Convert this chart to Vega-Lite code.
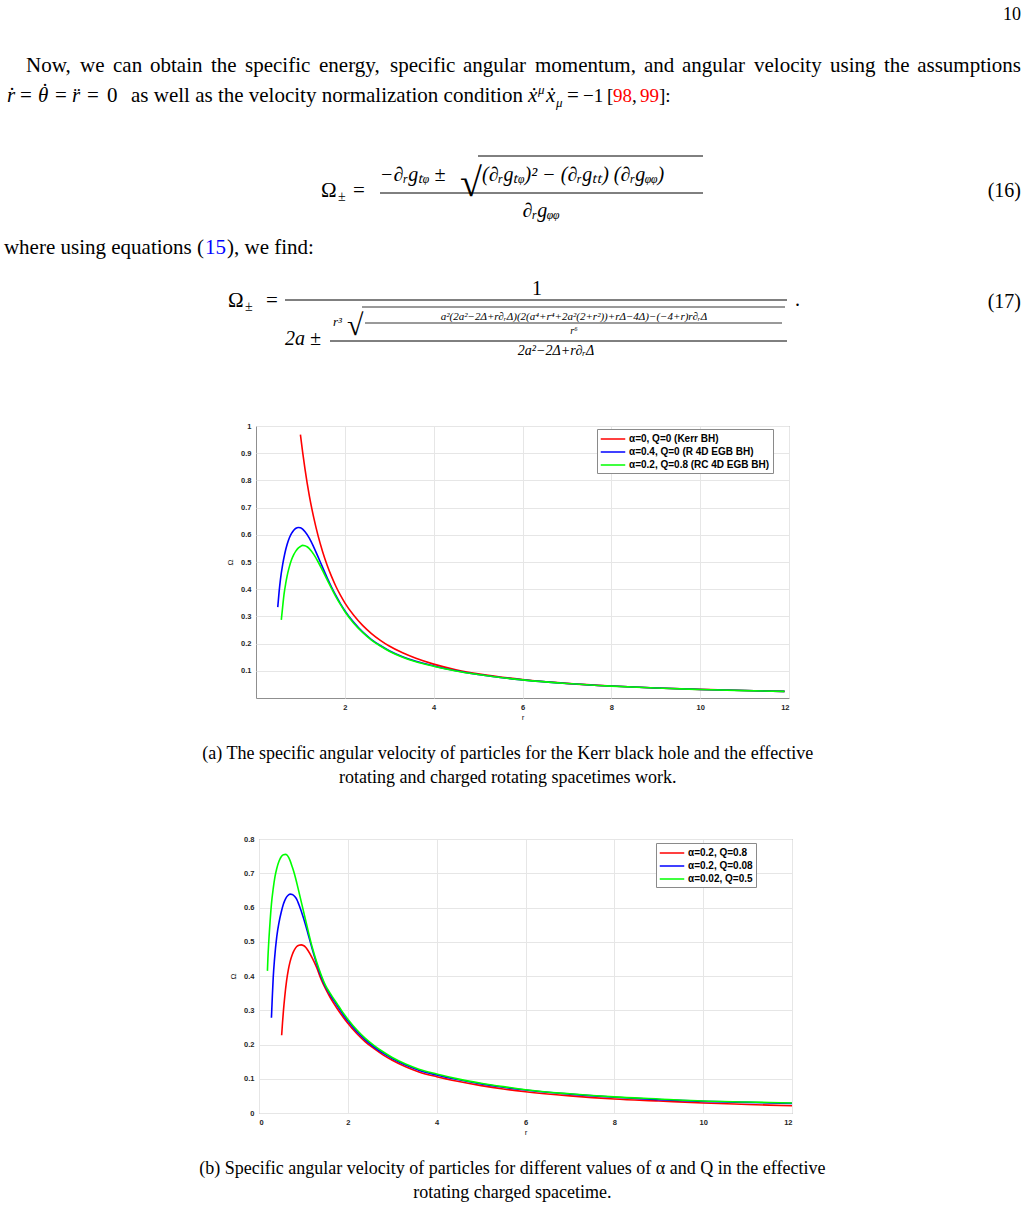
{
  "$schema": "https://vega.github.io/schema/vega-lite/v6.json",
  "padding": 0,
  "background": "white",
  "spacing": 47,
  "center": false,
  "align": "none",
  "bounds": "full",
  "resolve": {"scale": {"color": "independent"}, "legend": {"color": "independent"}},
  "config": {
    "view": {"stroke": "#8f8f8f", "strokeWidth": 1},
    "concat": {"spacing": 0},
    "axis": {
      "labelFont": "Liberation Sans", "labelFontWeight": "bold", "labelFontSize": 7.5, "labelColor": "#262626",
      "titleFont": "Liberation Sans", "titleFontSize": 8, "titleFontWeight": "normal", "titleColor": "#262626",
      "domain": false, "ticks": false, "labelPadding": 5, "gridColor": "#e6e6e6", "gridWidth": 1
    },
    "legend": {
      "symbolType": "M-2,0L2,0", "symbolStrokeWidth": 1.5, "symbolSize": 150, "symbolOffset": 6,
      "labelFont": "Liberation Sans", "labelFontWeight": "bold", "labelFontSize": 10, "labelColor": "#000000",
      "strokeColor": "#8a8a8a", "fillColor": "white", "padding": 3, "rowPadding": 1, "labelOffset": 9, "labelLimit": 400
    },
    "title": {
      "font": "Liberation Serif", "fontSize": 18, "fontWeight": "normal", "color": "#000000",
      "lineHeight": 24, "orient": "bottom", "anchor": "middle", "frame": "bounds", "offset": 23
    },
    "text": {"font": "Liberation Serif", "fontSize": 21, "align": "left", "baseline": "alphabetic", "color": "#000000"}
  },
  "vconcat": [
    {
      "width": 1021,
      "height": 374,
      "view": {"stroke": null},
      "data": {"values": [{}]},
      "layer": [
        {"mark": {"type": "text", "text": "10", "align": "right", "fontSize": 18}, "encoding": {"x": {"value": 1021}, "y": {"value": 20}}},
        {"mark": {"type": "text", "text": "Now,"}, "encoding": {"x": {"value": 26}, "y": {"value": 72}}},
        {"mark": {"type": "text", "text": "we"}, "encoding": {"x": {"value": 80}, "y": {"value": 72}}},
        {"mark": {"type": "text", "text": "can"}, "encoding": {"x": {"value": 113}, "y": {"value": 72}}},
        {"mark": {"type": "text", "text": "obtain"}, "encoding": {"x": {"value": 150}, "y": {"value": 72}}},
        {"mark": {"type": "text", "text": "the"}, "encoding": {"x": {"value": 211}, "y": {"value": 72}}},
        {"mark": {"type": "text", "text": "specific"}, "encoding": {"x": {"value": 245}, "y": {"value": 72}}},
        {"mark": {"type": "text", "text": "energy,"}, "encoding": {"x": {"value": 319}, "y": {"value": 72}}},
        {"mark": {"type": "text", "text": "specific"}, "encoding": {"x": {"value": 390}, "y": {"value": 72}}},
        {"mark": {"type": "text", "text": "angular"}, "encoding": {"x": {"value": 463}, "y": {"value": 72}}},
        {"mark": {"type": "text", "text": "momentum,"}, "encoding": {"x": {"value": 535}, "y": {"value": 72}}},
        {"mark": {"type": "text", "text": "and"}, "encoding": {"x": {"value": 644}, "y": {"value": 72}}},
        {"mark": {"type": "text", "text": "angular"}, "encoding": {"x": {"value": 682}, "y": {"value": 72}}},
        {"mark": {"type": "text", "text": "velocity"}, "encoding": {"x": {"value": 754}, "y": {"value": 72}}},
        {"mark": {"type": "text", "text": "using"}, "encoding": {"x": {"value": 830}, "y": {"value": 72}}},
        {"mark": {"type": "text", "text": "the"}, "encoding": {"x": {"value": 884}, "y": {"value": 72}}},
        {"mark": {"type": "text", "text": "assumptions", "align": "right"}, "encoding": {"x": {"value": 1021}, "y": {"value": 72}}},

        {"mark": {"type": "text", "text": "r", "fontStyle": "italic"}, "encoding": {"x": {"value": 7}, "y": {"value": 102}}},
        {"mark": {"type": "text", "text": "˙", "align": "center"}, "encoding": {"x": {"value": 12}, "y": {"value": 102}}},
        {"mark": {"type": "text", "text": "="}, "encoding": {"x": {"value": 20}, "y": {"value": 102}}},
        {"mark": {"type": "text", "text": "θ", "fontStyle": "italic"}, "encoding": {"x": {"value": 38}, "y": {"value": 102}}},
        {"mark": {"type": "text", "text": "˙", "align": "center"}, "encoding": {"x": {"value": 45}, "y": {"value": 98}}},
        {"mark": {"type": "text", "text": "="}, "encoding": {"x": {"value": 55}, "y": {"value": 102}}},
        {"mark": {"type": "text", "text": "r", "fontStyle": "italic"}, "encoding": {"x": {"value": 72}, "y": {"value": 102}}},
        {"mark": {"type": "text", "text": "¨", "align": "center"}, "encoding": {"x": {"value": 77}, "y": {"value": 102}}},
        {"mark": {"type": "text", "text": "="}, "encoding": {"x": {"value": 87}, "y": {"value": 102}}},
        {"mark": {"type": "text", "text": "0"}, "encoding": {"x": {"value": 107}, "y": {"value": 102}}},
        {"mark": {"type": "text", "text": "as well as the velocity normalization condition"}, "encoding": {"x": {"value": 131}, "y": {"value": 102}}},
        {"mark": {"type": "text", "text": "ẋ", "fontStyle": "italic"}, "encoding": {"x": {"value": 528}, "y": {"value": 102}}},
        {"mark": {"type": "text", "text": "μ", "fontSize": 13, "fontStyle": "italic"}, "encoding": {"x": {"value": 538}, "y": {"value": 94}}},
        {"mark": {"type": "text", "text": "ẋ", "fontStyle": "italic"}, "encoding": {"x": {"value": 546}, "y": {"value": 102}}},
        {"mark": {"type": "text", "text": "μ", "fontSize": 13, "fontStyle": "italic"}, "encoding": {"x": {"value": 556}, "y": {"value": 107}}},
        {"mark": {"type": "text", "text": "="}, "encoding": {"x": {"value": 567}, "y": {"value": 102}}},
        {"mark": {"type": "text", "text": "−1", "fontSize": 19}, "encoding": {"x": {"value": 583}, "y": {"value": 102}}},
        {"mark": {"type": "text", "text": "[", "fontSize": 19}, "encoding": {"x": {"value": 607}, "y": {"value": 102}}},
        {"mark": {"type": "text", "text": "98", "fontSize": 19, "color": "#ff0000"}, "encoding": {"x": {"value": 613}, "y": {"value": 102}}},
        {"mark": {"type": "text", "text": ",", "fontSize": 19}, "encoding": {"x": {"value": 632}, "y": {"value": 102}}},
        {"mark": {"type": "text", "text": "99", "fontSize": 19, "color": "#ff0000"}, "encoding": {"x": {"value": 640}, "y": {"value": 102}}},
        {"mark": {"type": "text", "text": "]:", "fontSize": 19}, "encoding": {"x": {"value": 659}, "y": {"value": 102}}},

        {"mark": {"type": "text", "text": "Ω"}, "encoding": {"x": {"value": 321}, "y": {"value": 197}}},
        {"mark": {"type": "text", "text": "±", "fontSize": 14}, "encoding": {"x": {"value": 338}, "y": {"value": 201}}},
        {"mark": {"type": "text", "text": "="}, "encoding": {"x": {"value": 353}, "y": {"value": 197}}},
        {"mark": {"type": "text", "text": "−∂ᵣgₜᵩ ±", "fontSize": 20, "fontStyle": "italic"}, "encoding": {"x": {"value": 380}, "y": {"value": 181}}},
        {"mark": {"type": "text", "text": "√", "fontSize": 40}, "encoding": {"x": {"value": 460}, "y": {"value": 196}}},
        {"mark": {"type": "rule", "color": "#000000", "strokeWidth": 1}, "encoding": {"x": {"value": 478}, "x2": {"value": 703}, "y": {"value": 156}}},
        {"mark": {"type": "text", "text": "(∂ᵣgₜᵩ)² − (∂ᵣgₜₜ) (∂ᵣgᵩᵩ)", "fontSize": 20, "fontStyle": "italic"}, "encoding": {"x": {"value": 482}, "y": {"value": 181}}},
        {"mark": {"type": "rule", "color": "#000000", "strokeWidth": 1}, "encoding": {"x": {"value": 380}, "x2": {"value": 703}, "y": {"value": 193}}},
        {"mark": {"type": "text", "text": "∂ᵣgᵩᵩ", "align": "center", "fontSize": 20, "fontStyle": "italic"}, "encoding": {"x": {"value": 541}, "y": {"value": 217}}},
        {"mark": {"type": "text", "text": "(16)", "align": "right", "fontSize": 20}, "encoding": {"x": {"value": 1021}, "y": {"value": 197}}},

        {"mark": {"type": "text", "text": "where using equations (", "align": "right"}, "encoding": {"x": {"value": 204}, "y": {"value": 254}}},
        {"mark": {"type": "text", "text": "15", "color": "#0000ff"}, "encoding": {"x": {"value": 205}, "y": {"value": 254}}},
        {"mark": {"type": "text", "text": "), we find:"}, "encoding": {"x": {"value": 227}, "y": {"value": 254}}},

        {"mark": {"type": "text", "text": "Ω"}, "encoding": {"x": {"value": 228}, "y": {"value": 307}}},
        {"mark": {"type": "text", "text": "±", "fontSize": 14}, "encoding": {"x": {"value": 245}, "y": {"value": 311}}},
        {"mark": {"type": "text", "text": "="}, "encoding": {"x": {"value": 266}, "y": {"value": 307}}},
        {"mark": {"type": "text", "text": "1", "align": "center", "fontSize": 20}, "encoding": {"x": {"value": 537}, "y": {"value": 295}}},
        {"mark": {"type": "rule", "color": "#000000", "strokeWidth": 1}, "encoding": {"x": {"value": 285}, "x2": {"value": 787}, "y": {"value": 300}}},
        {"mark": {"type": "text", "text": "2a ±", "fontSize": 20, "fontStyle": "italic"}, "encoding": {"x": {"value": 285}, "y": {"value": 345}}},
        {"mark": {"type": "text", "text": "r³", "fontSize": 13, "fontStyle": "italic"}, "encoding": {"x": {"value": 333}, "y": {"value": 326}}},
        {"mark": {"type": "text", "text": "√", "fontSize": 30}, "encoding": {"x": {"value": 347}, "y": {"value": 335}}},
        {"mark": {"type": "rule", "color": "#000000", "strokeWidth": 0.8}, "encoding": {"x": {"value": 362}, "x2": {"value": 785}, "y": {"value": 307}}},
        {"mark": {"type": "text", "text": "a²(2a²−2Δ+r∂ᵣΔ)(2(a⁴+r⁴+2a²(2+r²))+rΔ−4Δ)−(−4+r)r∂ᵣΔ", "align": "center", "fontSize": 11, "fontStyle": "italic"}, "encoding": {"x": {"value": 574}, "y": {"value": 320}}},
        {"mark": {"type": "rule", "color": "#000000", "strokeWidth": 0.8}, "encoding": {"x": {"value": 365}, "x2": {"value": 782}, "y": {"value": 323}}},
        {"mark": {"type": "text", "text": "r⁶", "align": "center", "fontSize": 10, "fontStyle": "italic"}, "encoding": {"x": {"value": 574}, "y": {"value": 334}}},
        {"mark": {"type": "rule", "color": "#000000", "strokeWidth": 1}, "encoding": {"x": {"value": 330}, "x2": {"value": 787}, "y": {"value": 341}}},
        {"mark": {"type": "text", "text": "2a²−2Δ+r∂ᵣΔ", "align": "center", "fontSize": 14, "fontStyle": "italic"}, "encoding": {"x": {"value": 556}, "y": {"value": 355}}},
        {"mark": {"type": "text", "text": ".", "fontSize": 20}, "encoding": {"x": {"value": 795}, "y": {"value": 306}}},
        {"mark": {"type": "text", "text": "(17)", "align": "right", "fontSize": 20}, "encoding": {"x": {"value": 1021}, "y": {"value": 308}}}
      ]
    },
    {
      "align": "none",
      "bounds": "full",
      "spacing": 0,
      "hconcat": [
        {"width": 199, "height": 10, "view": {"stroke": null}, "data": {"values": []}, "mark": "point"},
        {
          "width": 533,
          "height": 272,
          "title": {"text": ["(a)  The specific angular velocity of particles for the Kerr black hole and the effective", "rotating and charged rotating spacetimes work."]},
          "data": {"values": [
            {"series": "α=0, Q=0 (Kerr BH)", "r": 1.0, "omega": 0.968},
            {"series": "α=0, Q=0 (Kerr BH)", "r": 1.05, "omega": 0.904},
            {"series": "α=0, Q=0 (Kerr BH)", "r": 1.1, "omega": 0.845},
            {"series": "α=0, Q=0 (Kerr BH)", "r": 1.15, "omega": 0.792},
            {"series": "α=0, Q=0 (Kerr BH)", "r": 1.2, "omega": 0.744},
            {"series": "α=0, Q=0 (Kerr BH)", "r": 1.3, "omega": 0.663},
            {"series": "α=0, Q=0 (Kerr BH)", "r": 1.4, "omega": 0.595},
            {"series": "α=0, Q=0 (Kerr BH)", "r": 1.5, "omega": 0.538},
            {"series": "α=0, Q=0 (Kerr BH)", "r": 1.6, "omega": 0.489},
            {"series": "α=0, Q=0 (Kerr BH)", "r": 1.7, "omega": 0.447},
            {"series": "α=0, Q=0 (Kerr BH)", "r": 1.8, "omega": 0.41},
            {"series": "α=0, Q=0 (Kerr BH)", "r": 1.9, "omega": 0.378},
            {"series": "α=0, Q=0 (Kerr BH)", "r": 2.0, "omega": 0.35},
            {"series": "α=0, Q=0 (Kerr BH)", "r": 2.2, "omega": 0.304},
            {"series": "α=0, Q=0 (Kerr BH)", "r": 2.4, "omega": 0.267},
            {"series": "α=0, Q=0 (Kerr BH)", "r": 2.6, "omega": 0.237},
            {"series": "α=0, Q=0 (Kerr BH)", "r": 2.8, "omega": 0.212},
            {"series": "α=0, Q=0 (Kerr BH)", "r": 3.0, "omega": 0.191},
            {"series": "α=0, Q=0 (Kerr BH)", "r": 3.3, "omega": 0.166},
            {"series": "α=0, Q=0 (Kerr BH)", "r": 3.6, "omega": 0.146},
            {"series": "α=0, Q=0 (Kerr BH)", "r": 4.0, "omega": 0.1245},
            {"series": "α=0, Q=0 (Kerr BH)", "r": 4.5, "omega": 0.104},
            {"series": "α=0, Q=0 (Kerr BH)", "r": 5.0, "omega": 0.089},
            {"series": "α=0, Q=0 (Kerr BH)", "r": 5.5, "omega": 0.0773},
            {"series": "α=0, Q=0 (Kerr BH)", "r": 6.0, "omega": 0.0679},
            {"series": "α=0, Q=0 (Kerr BH)", "r": 7.0, "omega": 0.0539},
            {"series": "α=0, Q=0 (Kerr BH)", "r": 8.0, "omega": 0.0441},
            {"series": "α=0, Q=0 (Kerr BH)", "r": 9.0, "omega": 0.037},
            {"series": "α=0, Q=0 (Kerr BH)", "r": 10.0, "omega": 0.0316},
            {"series": "α=0, Q=0 (Kerr BH)", "r": 11.0, "omega": 0.0274},
            {"series": "α=0, Q=0 (Kerr BH)", "r": 11.9, "omega": 0.0243},

            {"series": "α=0.4, Q=0 (R 4D EGB BH)", "r": 0.49, "omega": 0.334},
            {"series": "α=0.4, Q=0 (R 4D EGB BH)", "r": 0.52, "omega": 0.39},
            {"series": "α=0.4, Q=0 (R 4D EGB BH)", "r": 0.55, "omega": 0.435},
            {"series": "α=0.4, Q=0 (R 4D EGB BH)", "r": 0.6, "omega": 0.49},
            {"series": "α=0.4, Q=0 (R 4D EGB BH)", "r": 0.65, "omega": 0.532},
            {"series": "α=0.4, Q=0 (R 4D EGB BH)", "r": 0.7, "omega": 0.564},
            {"series": "α=0.4, Q=0 (R 4D EGB BH)", "r": 0.75, "omega": 0.588},
            {"series": "α=0.4, Q=0 (R 4D EGB BH)", "r": 0.8, "omega": 0.605},
            {"series": "α=0.4, Q=0 (R 4D EGB BH)", "r": 0.85, "omega": 0.617},
            {"series": "α=0.4, Q=0 (R 4D EGB BH)", "r": 0.9, "omega": 0.624},
            {"series": "α=0.4, Q=0 (R 4D EGB BH)", "r": 0.95, "omega": 0.627},
            {"series": "α=0.4, Q=0 (R 4D EGB BH)", "r": 1.0, "omega": 0.626},
            {"series": "α=0.4, Q=0 (R 4D EGB BH)", "r": 1.05, "omega": 0.621},
            {"series": "α=0.4, Q=0 (R 4D EGB BH)", "r": 1.1, "omega": 0.612},
            {"series": "α=0.4, Q=0 (R 4D EGB BH)", "r": 1.2, "omega": 0.588},
            {"series": "α=0.4, Q=0 (R 4D EGB BH)", "r": 1.3, "omega": 0.555},
            {"series": "α=0.4, Q=0 (R 4D EGB BH)", "r": 1.4, "omega": 0.518},
            {"series": "α=0.4, Q=0 (R 4D EGB BH)", "r": 1.5, "omega": 0.48},
            {"series": "α=0.4, Q=0 (R 4D EGB BH)", "r": 1.6, "omega": 0.443},
            {"series": "α=0.4, Q=0 (R 4D EGB BH)", "r": 1.7, "omega": 0.408},
            {"series": "α=0.4, Q=0 (R 4D EGB BH)", "r": 1.8, "omega": 0.376},
            {"series": "α=0.4, Q=0 (R 4D EGB BH)", "r": 1.9, "omega": 0.347},
            {"series": "α=0.4, Q=0 (R 4D EGB BH)", "r": 2.0, "omega": 0.321},
            {"series": "α=0.4, Q=0 (R 4D EGB BH)", "r": 2.2, "omega": 0.278},
            {"series": "α=0.4, Q=0 (R 4D EGB BH)", "r": 2.4, "omega": 0.243},
            {"series": "α=0.4, Q=0 (R 4D EGB BH)", "r": 2.6, "omega": 0.215},
            {"series": "α=0.4, Q=0 (R 4D EGB BH)", "r": 2.8, "omega": 0.193},
            {"series": "α=0.4, Q=0 (R 4D EGB BH)", "r": 3.0, "omega": 0.174},
            {"series": "α=0.4, Q=0 (R 4D EGB BH)", "r": 3.3, "omega": 0.152},
            {"series": "α=0.4, Q=0 (R 4D EGB BH)", "r": 3.6, "omega": 0.135},
            {"series": "α=0.4, Q=0 (R 4D EGB BH)", "r": 4.0, "omega": 0.118},
            {"series": "α=0.4, Q=0 (R 4D EGB BH)", "r": 4.5, "omega": 0.1},
            {"series": "α=0.4, Q=0 (R 4D EGB BH)", "r": 5.0, "omega": 0.0865},
            {"series": "α=0.4, Q=0 (R 4D EGB BH)", "r": 5.5, "omega": 0.0755},
            {"series": "α=0.4, Q=0 (R 4D EGB BH)", "r": 6.0, "omega": 0.0668},
            {"series": "α=0.4, Q=0 (R 4D EGB BH)", "r": 7.0, "omega": 0.0534},
            {"series": "α=0.4, Q=0 (R 4D EGB BH)", "r": 8.0, "omega": 0.0439},
            {"series": "α=0.4, Q=0 (R 4D EGB BH)", "r": 9.0, "omega": 0.0368},
            {"series": "α=0.4, Q=0 (R 4D EGB BH)", "r": 10.0, "omega": 0.0315},
            {"series": "α=0.4, Q=0 (R 4D EGB BH)", "r": 11.0, "omega": 0.0273},
            {"series": "α=0.4, Q=0 (R 4D EGB BH)", "r": 11.9, "omega": 0.0243},

            {"series": "α=0.2, Q=0.8 (RC 4D EGB BH)", "r": 0.57, "omega": 0.287},
            {"series": "α=0.2, Q=0.8 (RC 4D EGB BH)", "r": 0.6, "omega": 0.335},
            {"series": "α=0.2, Q=0.8 (RC 4D EGB BH)", "r": 0.63, "omega": 0.38},
            {"series": "α=0.2, Q=0.8 (RC 4D EGB BH)", "r": 0.67, "omega": 0.422},
            {"series": "α=0.2, Q=0.8 (RC 4D EGB BH)", "r": 0.7, "omega": 0.448},
            {"series": "α=0.2, Q=0.8 (RC 4D EGB BH)", "r": 0.75, "omega": 0.482},
            {"series": "α=0.2, Q=0.8 (RC 4D EGB BH)", "r": 0.8, "omega": 0.508},
            {"series": "α=0.2, Q=0.8 (RC 4D EGB BH)", "r": 0.85, "omega": 0.527},
            {"series": "α=0.2, Q=0.8 (RC 4D EGB BH)", "r": 0.9, "omega": 0.541},
            {"series": "α=0.2, Q=0.8 (RC 4D EGB BH)", "r": 0.95, "omega": 0.551},
            {"series": "α=0.2, Q=0.8 (RC 4D EGB BH)", "r": 1.0, "omega": 0.557},
            {"series": "α=0.2, Q=0.8 (RC 4D EGB BH)", "r": 1.05, "omega": 0.561},
            {"series": "α=0.2, Q=0.8 (RC 4D EGB BH)", "r": 1.1, "omega": 0.56},
            {"series": "α=0.2, Q=0.8 (RC 4D EGB BH)", "r": 1.15, "omega": 0.556},
            {"series": "α=0.2, Q=0.8 (RC 4D EGB BH)", "r": 1.2, "omega": 0.549},
            {"series": "α=0.2, Q=0.8 (RC 4D EGB BH)", "r": 1.3, "omega": 0.528},
            {"series": "α=0.2, Q=0.8 (RC 4D EGB BH)", "r": 1.4, "omega": 0.5},
            {"series": "α=0.2, Q=0.8 (RC 4D EGB BH)", "r": 1.5, "omega": 0.468},
            {"series": "α=0.2, Q=0.8 (RC 4D EGB BH)", "r": 1.6, "omega": 0.435},
            {"series": "α=0.2, Q=0.8 (RC 4D EGB BH)", "r": 1.7, "omega": 0.403},
            {"series": "α=0.2, Q=0.8 (RC 4D EGB BH)", "r": 1.8, "omega": 0.372},
            {"series": "α=0.2, Q=0.8 (RC 4D EGB BH)", "r": 1.9, "omega": 0.344},
            {"series": "α=0.2, Q=0.8 (RC 4D EGB BH)", "r": 2.0, "omega": 0.318},
            {"series": "α=0.2, Q=0.8 (RC 4D EGB BH)", "r": 2.2, "omega": 0.275},
            {"series": "α=0.2, Q=0.8 (RC 4D EGB BH)", "r": 2.4, "omega": 0.241},
            {"series": "α=0.2, Q=0.8 (RC 4D EGB BH)", "r": 2.6, "omega": 0.213},
            {"series": "α=0.2, Q=0.8 (RC 4D EGB BH)", "r": 2.8, "omega": 0.191},
            {"series": "α=0.2, Q=0.8 (RC 4D EGB BH)", "r": 3.0, "omega": 0.172},
            {"series": "α=0.2, Q=0.8 (RC 4D EGB BH)", "r": 3.3, "omega": 0.15},
            {"series": "α=0.2, Q=0.8 (RC 4D EGB BH)", "r": 3.6, "omega": 0.133},
            {"series": "α=0.2, Q=0.8 (RC 4D EGB BH)", "r": 4.0, "omega": 0.117},
            {"series": "α=0.2, Q=0.8 (RC 4D EGB BH)", "r": 4.5, "omega": 0.0995},
            {"series": "α=0.2, Q=0.8 (RC 4D EGB BH)", "r": 5.0, "omega": 0.0862},
            {"series": "α=0.2, Q=0.8 (RC 4D EGB BH)", "r": 5.5, "omega": 0.0753},
            {"series": "α=0.2, Q=0.8 (RC 4D EGB BH)", "r": 6.0, "omega": 0.0666},
            {"series": "α=0.2, Q=0.8 (RC 4D EGB BH)", "r": 7.0, "omega": 0.0533},
            {"series": "α=0.2, Q=0.8 (RC 4D EGB BH)", "r": 8.0, "omega": 0.0438},
            {"series": "α=0.2, Q=0.8 (RC 4D EGB BH)", "r": 9.0, "omega": 0.0367},
            {"series": "α=0.2, Q=0.8 (RC 4D EGB BH)", "r": 10.0, "omega": 0.0314},
            {"series": "α=0.2, Q=0.8 (RC 4D EGB BH)", "r": 11.0, "omega": 0.0272},
            {"series": "α=0.2, Q=0.8 (RC 4D EGB BH)", "r": 11.9, "omega": 0.0242}
          ]},
          "mark": {"type": "line", "strokeWidth": 1.6, "interpolate": "monotone"},
          "encoding": {
            "x": {"field": "r", "type": "quantitative", "scale": {"domain": [0, 12], "nice": false, "zero": false},
                  "axis": {"values": [2, 4, 6, 8, 10, 12], "format": "~g", "title": "r", "titlePadding": 3}},
            "y": {"field": "omega", "type": "quantitative", "scale": {"domain": [0, 1], "nice": false},
                  "axis": {"values": [0.1, 0.2, 0.3, 0.4, 0.5, 0.6, 0.7, 0.8, 0.9, 1], "format": "~g", "title": "Ω", "titlePadding": 6}},
            "color": {"field": "series", "type": "nominal",
                      "scale": {"domain": ["α=0, Q=0 (Kerr BH)", "α=0.4, Q=0 (R 4D EGB BH)", "α=0.2, Q=0.8 (RC 4D EGB BH)"], "range": ["#ff0000", "#0000ff", "#00ff00"]},
                      "legend": {"title": null, "orient": "none", "legendX": 597, "legendY": 3}}
          }
        }
      ]
    },
    {
      "align": "none",
      "bounds": "full",
      "spacing": 0,
      "hconcat": [
        {"width": 196, "height": 10, "view": {"stroke": null}, "data": {"values": []}, "mark": "point"},
        {
          "width": 533,
          "height": 274,
          "title": {"text": ["(b)  Specific angular velocity of particles for different values of α and Q in the effective", "rotating charged spacetime."]},
          "data": {"values": [
            {"series": "α=0.2, Q=0.8", "r": 0.51, "omega": 0.227},
            {"series": "α=0.2, Q=0.8", "r": 0.53, "omega": 0.265},
            {"series": "α=0.2, Q=0.8", "r": 0.55, "omega": 0.298},
            {"series": "α=0.2, Q=0.8", "r": 0.58, "omega": 0.34},
            {"series": "α=0.2, Q=0.8", "r": 0.62, "omega": 0.385},
            {"series": "α=0.2, Q=0.8", "r": 0.66, "omega": 0.418},
            {"series": "α=0.2, Q=0.8", "r": 0.7, "omega": 0.442},
            {"series": "α=0.2, Q=0.8", "r": 0.75, "omega": 0.463},
            {"series": "α=0.2, Q=0.8", "r": 0.8, "omega": 0.477},
            {"series": "α=0.2, Q=0.8", "r": 0.85, "omega": 0.486},
            {"series": "α=0.2, Q=0.8", "r": 0.9, "omega": 0.49},
            {"series": "α=0.2, Q=0.8", "r": 0.95, "omega": 0.491},
            {"series": "α=0.2, Q=0.8", "r": 1.0, "omega": 0.489},
            {"series": "α=0.2, Q=0.8", "r": 1.05, "omega": 0.484},
            {"series": "α=0.2, Q=0.8", "r": 1.1, "omega": 0.475},
            {"series": "α=0.2, Q=0.8", "r": 1.2, "omega": 0.452},
            {"series": "α=0.2, Q=0.8", "r": 1.3, "omega": 0.424},
            {"series": "α=0.2, Q=0.8", "r": 1.4, "omega": 0.39},
            {"series": "α=0.2, Q=0.8", "r": 1.5, "omega": 0.362},
            {"series": "α=0.2, Q=0.8", "r": 1.6, "omega": 0.338},
            {"series": "α=0.2, Q=0.8", "r": 1.7, "omega": 0.317},
            {"series": "α=0.2, Q=0.8", "r": 1.8, "omega": 0.297},
            {"series": "α=0.2, Q=0.8", "r": 1.9, "omega": 0.279},
            {"series": "α=0.2, Q=0.8", "r": 2.0, "omega": 0.262},
            {"series": "α=0.2, Q=0.8", "r": 2.2, "omega": 0.232},
            {"series": "α=0.2, Q=0.8", "r": 2.4, "omega": 0.207},
            {"series": "α=0.2, Q=0.8", "r": 2.6, "omega": 0.187},
            {"series": "α=0.2, Q=0.8", "r": 2.8, "omega": 0.169},
            {"series": "α=0.2, Q=0.8", "r": 3.0, "omega": 0.154},
            {"series": "α=0.2, Q=0.8", "r": 3.3, "omega": 0.135},
            {"series": "α=0.2, Q=0.8", "r": 3.6, "omega": 0.12},
            {"series": "α=0.2, Q=0.8", "r": 4.0, "omega": 0.106},
            {"series": "α=0.2, Q=0.8", "r": 4.5, "omega": 0.092},
            {"series": "α=0.2, Q=0.8", "r": 5.0, "omega": 0.08},
            {"series": "α=0.2, Q=0.8", "r": 5.5, "omega": 0.07},
            {"series": "α=0.2, Q=0.8", "r": 6.0, "omega": 0.062},
            {"series": "α=0.2, Q=0.8", "r": 7.0, "omega": 0.05},
            {"series": "α=0.2, Q=0.8", "r": 8.0, "omega": 0.041},
            {"series": "α=0.2, Q=0.8", "r": 9.0, "omega": 0.035},
            {"series": "α=0.2, Q=0.8", "r": 10.0, "omega": 0.029},
            {"series": "α=0.2, Q=0.8", "r": 11.0, "omega": 0.025},
            {"series": "α=0.2, Q=0.8", "r": 12.0, "omega": 0.021},

            {"series": "α=0.2, Q=0.08", "r": 0.28, "omega": 0.278},
            {"series": "α=0.2, Q=0.08", "r": 0.3, "omega": 0.34},
            {"series": "α=0.2, Q=0.08", "r": 0.32, "omega": 0.395},
            {"series": "α=0.2, Q=0.08", "r": 0.35, "omega": 0.45},
            {"series": "α=0.2, Q=0.08", "r": 0.4, "omega": 0.515},
            {"series": "α=0.2, Q=0.08", "r": 0.45, "omega": 0.556},
            {"series": "α=0.2, Q=0.08", "r": 0.5, "omega": 0.586},
            {"series": "α=0.2, Q=0.08", "r": 0.55, "omega": 0.61},
            {"series": "α=0.2, Q=0.08", "r": 0.6, "omega": 0.626},
            {"series": "α=0.2, Q=0.08", "r": 0.65, "omega": 0.635},
            {"series": "α=0.2, Q=0.08", "r": 0.7, "omega": 0.639},
            {"series": "α=0.2, Q=0.08", "r": 0.75, "omega": 0.638},
            {"series": "α=0.2, Q=0.08", "r": 0.8, "omega": 0.633},
            {"series": "α=0.2, Q=0.08", "r": 0.85, "omega": 0.624},
            {"series": "α=0.2, Q=0.08", "r": 0.9, "omega": 0.608},
            {"series": "α=0.2, Q=0.08", "r": 1.0, "omega": 0.57},
            {"series": "α=0.2, Q=0.08", "r": 1.1, "omega": 0.525},
            {"series": "α=0.2, Q=0.08", "r": 1.2, "omega": 0.478},
            {"series": "α=0.2, Q=0.08", "r": 1.3, "omega": 0.435},
            {"series": "α=0.2, Q=0.08", "r": 1.4, "omega": 0.398},
            {"series": "α=0.2, Q=0.08", "r": 1.5, "omega": 0.368},
            {"series": "α=0.2, Q=0.08", "r": 1.6, "omega": 0.346},
            {"series": "α=0.2, Q=0.08", "r": 1.7, "omega": 0.325},
            {"series": "α=0.2, Q=0.08", "r": 1.8, "omega": 0.306},
            {"series": "α=0.2, Q=0.08", "r": 1.9, "omega": 0.286},
            {"series": "α=0.2, Q=0.08", "r": 2.0, "omega": 0.269},
            {"series": "α=0.2, Q=0.08", "r": 2.2, "omega": 0.238},
            {"series": "α=0.2, Q=0.08", "r": 2.4, "omega": 0.213},
            {"series": "α=0.2, Q=0.08", "r": 2.6, "omega": 0.192},
            {"series": "α=0.2, Q=0.08", "r": 2.8, "omega": 0.174},
            {"series": "α=0.2, Q=0.08", "r": 3.0, "omega": 0.159},
            {"series": "α=0.2, Q=0.08", "r": 3.3, "omega": 0.14},
            {"series": "α=0.2, Q=0.08", "r": 3.6, "omega": 0.125},
            {"series": "α=0.2, Q=0.08", "r": 4.0, "omega": 0.111},
            {"series": "α=0.2, Q=0.08", "r": 4.5, "omega": 0.097},
            {"series": "α=0.2, Q=0.08", "r": 5.0, "omega": 0.085},
            {"series": "α=0.2, Q=0.08", "r": 5.5, "omega": 0.075},
            {"series": "α=0.2, Q=0.08", "r": 6.0, "omega": 0.067},
            {"series": "α=0.2, Q=0.08", "r": 7.0, "omega": 0.055},
            {"series": "α=0.2, Q=0.08", "r": 8.0, "omega": 0.046},
            {"series": "α=0.2, Q=0.08", "r": 9.0, "omega": 0.039},
            {"series": "α=0.2, Q=0.08", "r": 10.0, "omega": 0.034},
            {"series": "α=0.2, Q=0.08", "r": 11.0, "omega": 0.031},
            {"series": "α=0.2, Q=0.08", "r": 12.0, "omega": 0.028},

            {"series": "α=0.02, Q=0.5", "r": 0.19, "omega": 0.415},
            {"series": "α=0.02, Q=0.5", "r": 0.2, "omega": 0.45},
            {"series": "α=0.02, Q=0.5", "r": 0.22, "omega": 0.5},
            {"series": "α=0.02, Q=0.5", "r": 0.25, "omega": 0.56},
            {"series": "α=0.02, Q=0.5", "r": 0.28, "omega": 0.61},
            {"series": "α=0.02, Q=0.5", "r": 0.32, "omega": 0.655},
            {"series": "α=0.02, Q=0.5", "r": 0.36, "omega": 0.69},
            {"series": "α=0.02, Q=0.5", "r": 0.4, "omega": 0.714},
            {"series": "α=0.02, Q=0.5", "r": 0.45, "omega": 0.735},
            {"series": "α=0.02, Q=0.5", "r": 0.5, "omega": 0.748},
            {"series": "α=0.02, Q=0.5", "r": 0.55, "omega": 0.754},
            {"series": "α=0.02, Q=0.5", "r": 0.6, "omega": 0.755},
            {"series": "α=0.02, Q=0.5", "r": 0.65, "omega": 0.75},
            {"series": "α=0.02, Q=0.5", "r": 0.7, "omega": 0.737},
            {"series": "α=0.02, Q=0.5", "r": 0.75, "omega": 0.718},
            {"series": "α=0.02, Q=0.5", "r": 0.8, "omega": 0.697},
            {"series": "α=0.02, Q=0.5", "r": 0.85, "omega": 0.672},
            {"series": "α=0.02, Q=0.5", "r": 0.9, "omega": 0.645},
            {"series": "α=0.02, Q=0.5", "r": 1.0, "omega": 0.59},
            {"series": "α=0.02, Q=0.5", "r": 1.1, "omega": 0.535},
            {"series": "α=0.02, Q=0.5", "r": 1.2, "omega": 0.483},
            {"series": "α=0.02, Q=0.5", "r": 1.3, "omega": 0.44},
            {"series": "α=0.02, Q=0.5", "r": 1.4, "omega": 0.403},
            {"series": "α=0.02, Q=0.5", "r": 1.5, "omega": 0.372},
            {"series": "α=0.02, Q=0.5", "r": 1.6, "omega": 0.35},
            {"series": "α=0.02, Q=0.5", "r": 1.7, "omega": 0.33},
            {"series": "α=0.02, Q=0.5", "r": 1.8, "omega": 0.311},
            {"series": "α=0.02, Q=0.5", "r": 1.9, "omega": 0.291},
            {"series": "α=0.02, Q=0.5", "r": 2.0, "omega": 0.274},
            {"series": "α=0.02, Q=0.5", "r": 2.2, "omega": 0.243},
            {"series": "α=0.02, Q=0.5", "r": 2.4, "omega": 0.217},
            {"series": "α=0.02, Q=0.5", "r": 2.6, "omega": 0.196},
            {"series": "α=0.02, Q=0.5", "r": 2.8, "omega": 0.178},
            {"series": "α=0.02, Q=0.5", "r": 3.0, "omega": 0.162},
            {"series": "α=0.02, Q=0.5", "r": 3.3, "omega": 0.143},
            {"series": "α=0.02, Q=0.5", "r": 3.6, "omega": 0.128},
            {"series": "α=0.02, Q=0.5", "r": 4.0, "omega": 0.114},
            {"series": "α=0.02, Q=0.5", "r": 4.5, "omega": 0.099},
            {"series": "α=0.02, Q=0.5", "r": 5.0, "omega": 0.087},
            {"series": "α=0.02, Q=0.5", "r": 5.5, "omega": 0.077},
            {"series": "α=0.02, Q=0.5", "r": 6.0, "omega": 0.068},
            {"series": "α=0.02, Q=0.5", "r": 7.0, "omega": 0.056},
            {"series": "α=0.02, Q=0.5", "r": 8.0, "omega": 0.047},
            {"series": "α=0.02, Q=0.5", "r": 9.0, "omega": 0.041},
            {"series": "α=0.02, Q=0.5", "r": 10.0, "omega": 0.035},
            {"series": "α=0.02, Q=0.5", "r": 11.0, "omega": 0.032},
            {"series": "α=0.02, Q=0.5", "r": 12.0, "omega": 0.029}
          ]},
          "mark": {"type": "line", "strokeWidth": 1.6, "interpolate": "monotone"},
          "encoding": {
            "x": {"field": "r", "type": "quantitative", "scale": {"domain": [0, 12], "nice": false, "zero": false},
                  "axis": {"values": [0, 2, 4, 6, 8, 10, 12], "format": "~g", "title": "r", "titlePadding": 3}},
            "y": {"field": "omega", "type": "quantitative", "scale": {"domain": [0, 0.8], "nice": false},
                  "axis": {"values": [0, 0.1, 0.2, 0.3, 0.4, 0.5, 0.6, 0.7, 0.8], "format": "~g", "title": "Ω", "titlePadding": 6}},
            "color": {"field": "series", "type": "nominal",
                      "scale": {"domain": ["α=0.2, Q=0.8", "α=0.2, Q=0.08", "α=0.02, Q=0.5"], "range": ["#ff0000", "#0000ff", "#00ff00"]},
                      "legend": {"title": null, "orient": "none", "legendX": 656, "legendY": 4}}
          }
        }
      ]
    }
  ]
}
